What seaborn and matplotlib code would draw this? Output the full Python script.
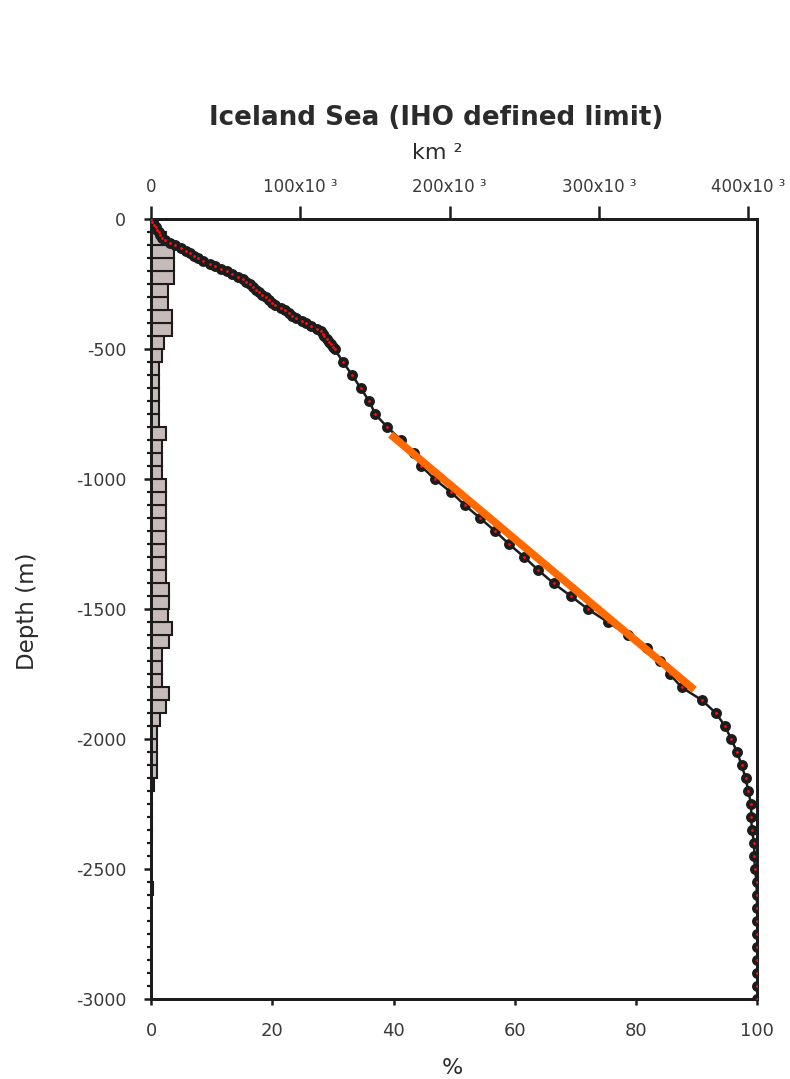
import numpy as np
import matplotlib
matplotlib.use("Agg")
import matplotlib.pyplot as plt
from matplotlib.ticker import MultipleLocator
import seaborn as sns

# Hypsometric curve: cumulative share of the sea area (%) shallower than each depth (m)
curve_depth_m = [
    0, -10, -20, -30, -40, -50, -60, -70, -80, -90,
    -100, -110, -120, -130, -140, -150, -160, -170, -180, -190,
    -200, -210, -220, -230, -240, -250, -260, -270, -280, -290,
    -300, -310, -320, -330, -340, -350, -360, -370, -380, -390,
    -400, -410, -420, -430, -440, -450, -460, -470, -480, -490,
    -500,
    -550, -600, -650, -700, -750, -800, -850, -900, -950, -1000,
    -1050, -1100, -1150, -1200, -1250, -1300, -1350, -1400, -1450, -1500,
    -1550, -1600, -1650, -1700, -1750, -1800, -1850, -1900, -1950, -2000,
    -2050, -2100, -2150, -2200, -2250, -2300, -2350, -2400, -2450, -2500,
    -2550, -2600, -2650, -2700, -2750, -2800, -2850, -2900, -2950, -3000,
]
curve_pct = [
    0.0, 0.15, 0.55, 0.85, 1.05, 1.25, 1.55, 1.85, 2.3, 3.1,
    4.0, 4.9, 5.8, 6.5, 7.1, 7.8, 8.6, 9.7, 10.6, 11.5,
    12.5, 13.4, 14.3, 15.1, 15.7, 16.3, 16.9, 17.4, 17.8, 18.3,
    18.9, 19.4, 19.9, 20.5, 21.4, 22.1, 22.7, 23.2, 23.9, 24.9,
    25.6, 26.4, 27.3, 28.0, 28.3, 28.6, 29.0, 29.4, 29.7, 30.0,
    30.3,
    31.7, 33.2, 34.6, 36.0, 37.0, 39.0, 41.3, 43.3, 44.6, 46.8,
    49.5, 51.8, 54.3, 56.8, 59.1, 61.6, 63.9, 66.4, 69.3, 72.1,
    75.4, 78.7, 81.8, 84.0, 85.6, 87.5, 90.9, 93.2, 94.7, 95.7,
    96.7, 97.4, 98.1, 98.5, 99.0, 99.0, 99.1, 99.5, 99.5, 99.6,
    99.9, 99.9, 100.0, 100.0, 100.0, 100.0, 100.0, 100.0, 100.0, 100.0,
]

# Area per 50 m depth band (10^3 km^2), listed from the surface downwards
band_top_m = [
    0, -50, -100, -150, -200, -250, -300, -350, -400, -450,
    -500, -550, -600, -650, -700, -750, -800, -850, -900, -950,
    -1000, -1050, -1100, -1150, -1200, -1250, -1300, -1350, -1400, -1450,
    -1500, -1550, -1600, -1650, -1700, -1750, -1800, -1850, -1900, -1950,
    -2000, -2050, -2100, -2150, -2200, -2250, -2300, -2350, -2400, -2450,
    -2500, -2550, -2600, -2650, -2700, -2750, -2800, -2850, -2900, -2950,
]
band_area_1e3km2 = [
    4.5, 10.0, 15.4, 15.4, 15.4, 11.6, 11.6, 13.9, 13.9, 8.7,
    7.2, 5.6, 5.6, 5.6, 5.6, 5.6, 10.0, 7.6, 7.6, 7.6,
    9.8, 9.8, 9.8, 9.8, 9.8, 9.8, 9.8, 9.8, 12.1, 12.1,
    11.6, 13.9, 12.1, 7.6, 7.6, 7.6, 12.1, 9.8, 6.0, 3.8,
    3.8, 3.8, 3.8, 2.0, 1.0, 0.6, 0.4, 0.4, 0.3, 0.3,
    0.3, 1.5, 0.1, 0.1, 0.1, 0.1, 0.1, 0.1, 0.1, 0.1,
]

# Straight reference segment across the mid-slope
fit_pct = [39.5, 89.6]
fit_depth_m = [-828, -1809]

pct_ticks = [0, 20, 40, 60, 80, 100]
depth_ticks = [0, -500, -1000, -1500, -2000, -2500, -3000]
area_ticks = [0, 100e3, 200e3, 300e3, 400e3]
area_tick_labels = ["0", "100x10 \u00b3", "200x10 \u00b3", "300x10 \u00b3", "400x10 \u00b3"]
total_area_km2 = 406e3

sns.set_style("ticks")
plt.rcParams["font.family"] = ["DejaVu Sans"]
plt.rcParams["axes.unicode_minus"] = False

text_col = "#2b2b2b"
tick_col = "#3a3a3a"
ink = "#1c1c1c"

fig = plt.figure(figsize=(7.9, 10.79), dpi=100)
ax = fig.add_axes([0.19114, 0.07386, 0.76747, 0.72289])
ax_km = ax.twiny()

# Area histogram on the km^2 (top) axis
band_mid_m = np.array(band_top_m) - 25.0
sns.histplot(
    y=band_mid_m,
    weights=np.array(band_area_1e3km2) * 1e3,
    binwidth=50,
    binrange=(-3000, 0),
    stat="count",
    color="#c5bbb8",
    edgecolor=ink,
    linewidth=1.5,
    alpha=1.0,
    ax=ax_km,
)

# Hypsometric curve on the % (bottom) axis
sns.lineplot(x=curve_pct, y=curve_depth_m, sort=False, estimator=None,
             color=ink, linewidth=1.8, ax=ax, zorder=3)
sns.scatterplot(x=curve_pct, y=curve_depth_m, color=ink, s=62,
                linewidth=0, ax=ax, zorder=4)
sns.scatterplot(x=curve_pct, y=curve_depth_m, color="#ff1010", s=4,
                linewidth=0, ax=ax, zorder=5)
sns.lineplot(x=fit_pct, y=fit_depth_m, sort=False, estimator=None,
             color="#ff6a00", linewidth=5.5, ax=ax, zorder=6,
             solid_capstyle="butt")

ax.set_zorder(ax_km.get_zorder() + 1)
ax.patch.set_visible(False)

ax.set_xlim(0, 100)
ax.set_ylim(-3000, 0)
ax_km.set_xlim(0, total_area_km2)

ax.set_xticks(pct_ticks)
ax.set_xticklabels([str(t) for t in pct_ticks])
ax.set_yticks(depth_ticks)
ax.set_yticklabels([str(t) for t in depth_ticks])
ax.yaxis.set_minor_locator(MultipleLocator(50))
ax_km.set_xticks(area_ticks)
ax_km.set_xticklabels(area_tick_labels)

for a in (ax, ax_km):
    a.set_xlabel("")
    a.set_ylabel("")
    for sp in a.spines.values():
        sp.set_visible(True)
        sp.set_linewidth(2.0)
        sp.set_color(ink)

ax.tick_params(axis="x", which="major", direction="out", length=4.5, width=1.8,
               color=ink, pad=12, labelsize=13, labelcolor=tick_col)
ax.tick_params(axis="y", which="major", direction="out", length=5.0, width=1.8,
               color=ink, pad=13, labelsize=12.5, labelcolor=tick_col)
ax.tick_params(axis="y", which="minor", direction="out", length=3.0, width=1.6,
               color=ink)
ax_km.tick_params(axis="x", which="major", direction="out", length=9.5, width=1.8,
                  color=ink, pad=7, labelsize=12, labelcolor=tick_col)

fig.text(0.552, 0.8906, "Iceland Sea (IHO defined limit)", ha="center", va="center",
         fontsize=18.8, fontweight="bold", color=text_col)
fig.text(0.554, 0.8580, "km \u00b2", ha="center", va="center",
         fontsize=16, color=text_col)
fig.text(0.572, 0.0100, "%", ha="center", va="center",
         fontsize=16, color=text_col)
fig.text(0.0354, 0.4337, "Depth (m)", ha="center", va="center", rotation=90,
         fontsize=16.5, color=text_col)

fig.savefig("out.png", dpi=100, facecolor="white")
